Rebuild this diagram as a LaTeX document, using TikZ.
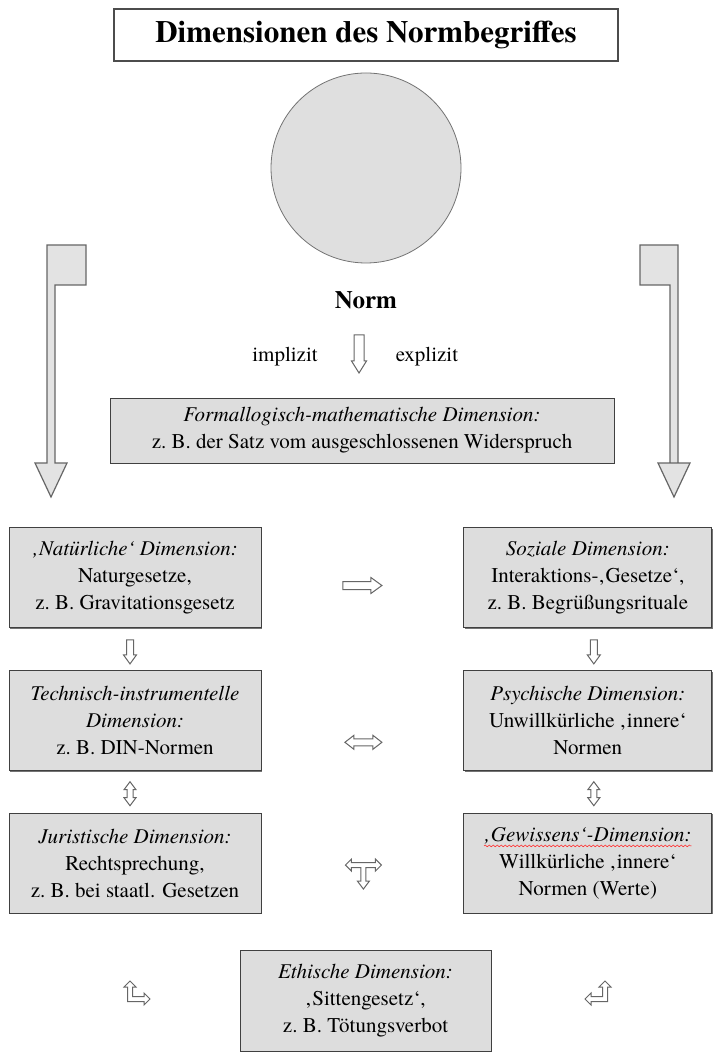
\documentclass[tikz,border=0pt]{standalone}
\usepackage{fontspec}
\setmainfont{texgyretermes}[Extension=.otf, UprightFont=*-regular, ItalicFont=*-italic,
    BoldFont=*-bold, BoldItalicFont=*-bolditalic]
\usetikzlibrary{positioning,calc,shadows,decorations.pathmorphing}

\newcommand{\boxfont}{\fontsize{10.5}{13.5}\selectfont}
\newlength{\gewwidth}

\tikzset{
    hollow/.style={draw=black!60, fill=white, line width=0.5pt},
    % Blockpfeil nach unten: halbe Laenge / halbe Schaftbreite / halbe Spitzenbreite / Spitzenlaenge
    pics/darr/.style n args={4}{code={
        \draw[hollow] (-#2,-#1) -- (#2,-#1) -- (#2,#1-#4) -- (#3,#1-#4) -- (0,#1)
            -- (-#3,#1-#4) -- (-#2,#1-#4) -- cycle;}},
    pics/ddarr/.style n args={4}{code={
        \draw[hollow] (0,-#1) -- (#3,-#1+#4) -- (#2,-#1+#4) -- (#2,#1-#4) -- (#3,#1-#4) -- (0,#1)
            -- (-#3,#1-#4) -- (-#2,#1-#4) -- (-#2,-#1+#4) -- (-#3,-#1+#4) -- cycle;}}
}

\begin{document}
\settowidth{\gewwidth}{\boxfont\itshape ‚Gewissens‘-Dimension:}
\begin{tikzpicture}[
        x=0.5pt, y=-0.5pt,
        node distance=21pt and 101pt,
        every node/.style={font=\boxfont},
        dimbox/.style={draw=black!75, fill=gray!27, minimum width=126pt, minimum height=50pt, inner sep=2pt, align=center,
            drop shadow={shadow xshift=0.6pt, shadow yshift=-0.6pt, fill=black!55, opacity=1}},
        rightbox/.style={dimbox, minimum width=124pt},
        sidearr/.style={draw=black!60, fill=gray!22, line width=0.6pt}
    ]
    \useasboundingbox (0,0) rectangle (713,1052);

    % Titel und Norm
    \node[draw=black!70, line width=0.8pt, minimum width=252pt, minimum height=26pt,
        font=\bfseries\fontsize{15.5}{18}\selectfont] (title) at (366,35) {Dimensionen des Normbegriffes};
    \node[circle, draw=black!55, fill=gray!25, minimum size=95pt] (circ) at (366,168) {};
    \node[font=\bfseries\fontsize{12.5}{15}\selectfont] (norm) at (366,300) {Norm};
    \coordinate (down0) at (359,354);
    \pic at (down0) {darr={19}{5}{7.5}{12}};
    \node (impl) at (285,357) {implizit};
    \node (expl) at (427,357) {explizit};

    \node[dimbox, minimum width=252pt, minimum height=32.5pt] (formal) at (362,430.5)
        {\textit{Formallogisch-mathematische Dimension:}\\ z.~B. der Satz vom ausgeschlossenen Widerspruch};

    % Seitenpfeile
    \draw[sidearr] (47,245) -- (86,245) -- (86,285) -- (55,285) -- (55,463) -- (67,463)
        -- (51,497) -- (35,463) -- (47,463) -- cycle;
    \draw[sidearr] (678,245) -- (640,245) -- (640,285) -- (670,285) -- (670,463) -- (690,463)
        -- (674,497) -- (658,463) -- (678,463) -- cycle;

    % Dimensionen
    \node[dimbox] (nat) at (135,577.5) {\textit{‚Natürliche‘ Dimension:}\\ Naturgesetze,\\ z.~B. Gravitationsgesetz};
    \node[rightbox, right=of nat] (soz) {\textit{Soziale Dimension:}\\ Interaktions-‚Gesetze‘,\\ z.~B. Begrüßungsrituale};
    \node[dimbox, below=of nat] (tech) {\textit{Technisch-instrumentelle}\\ \textit{Dimension:}\\ z.~B. DIN-Normen};
    \node[rightbox, below=of soz] (psy) {\textit{Psychische Dimension:}\\ Unwillkürliche ‚innere‘\\ Normen};
    \node[dimbox, below=of tech] (jur) {\textit{Juristische Dimension:}\\ Rechtsprechung,\\ z.~B. bei staatl. Gesetzen};
    \node[rightbox, below=of psy] (gew) {\textit{‚Gewissens‘-Dimension:}\\ Willkürliche ‚innere‘\\ Normen (Werte)};
    \node[dimbox, minimum width=125.5pt, minimum height=50.5pt] (eth) at (365.5,1000.5)
        {\textit{Ethische Dimension:}\\ ‚Sittengesetz‘,\\ z.~B. Tötungsverbot};
    \draw[red!80, line width=0.3pt, decorate, decoration={snake, amplitude=0.45pt, segment length=2pt}]
        ($(gew.center)+(-0.5\gewwidth,8.6pt)$) -- ($(gew.center)+(0.5\gewwidth,8.6pt)$);

    % Pfeile
    \coordinate (a1) at ($(nat.south)!0.5!(tech.north)+(-5,3)$);
    \coordinate (a2) at ($(soz.south)!0.5!(psy.north)+(6,3)$);
    \coordinate (a3) at ($(nat.east)!0.5!(soz.west)+(0,8)$);
    \coordinate (a4) at ($(tech.east)!0.5!(psy.west)+(1,22)$);
    \coordinate (a5) at ($(tech.south)!0.5!(jur.north)+(-5,2)$);
    \coordinate (a6) at ($(psy.south)!0.5!(gew.north)+(6,2)$);
    \pic at (a1) {darr={12}{3.5}{6.5}{9}};
    \pic at (a2) {darr={12}{3.5}{6.5}{9}};
    \pic[rotate=90] at (a3) {darr={19.5}{4}{8}{11}};
    \pic[rotate=90] at (a4) {ddarr={18.5}{3.5}{7}{9}};
    \pic at (a5) {ddarr={12}{3}{6}{8}};
    \pic at (a6) {ddarr={12}{3}{6}{8}};

    \coordinate (tee) at ($(jur.east)!0.5!(gew.west)+(1,2)$);
    \draw[hollow, shift={(tee)}] (-18,0) -- (-12,-6) -- (-12,-2.5) -- (12,-2.5) -- (12,-6) -- (18,0)
        -- (12,6) -- (12,2.5) -- (2.5,2.5) -- (2.5,16) -- (6,16) -- (0,24) -- (-6,16) -- (-2.5,16)
        -- (-2.5,2.5) -- (-12,2.5) -- (-12,6) -- cycle;

    \coordinate (bentl) at (137,993);
    \coordinate (bentr) at (598,993);
    \draw[hollow, shift={(bentl)}] (-7,-12) -- (-1,-6) -- (-4.5,-6) -- (-4.5,3.5) -- (7,3.5) -- (7,0)
        -- (13,6) -- (7,12) -- (7,8.5) -- (-9.5,8.5) -- (-9.5,-6) -- (-13,-6) -- cycle;
    \draw[hollow, shift={(bentr)}] (7,-12) -- (1,-6) -- (4.5,-6) -- (4.5,3.5) -- (-7,3.5) -- (-7,0)
        -- (-13,6) -- (-7,12) -- (-7,8.5) -- (9.5,8.5) -- (9.5,-6) -- (13,-6) -- cycle;

\end{tikzpicture}
\end{document}
